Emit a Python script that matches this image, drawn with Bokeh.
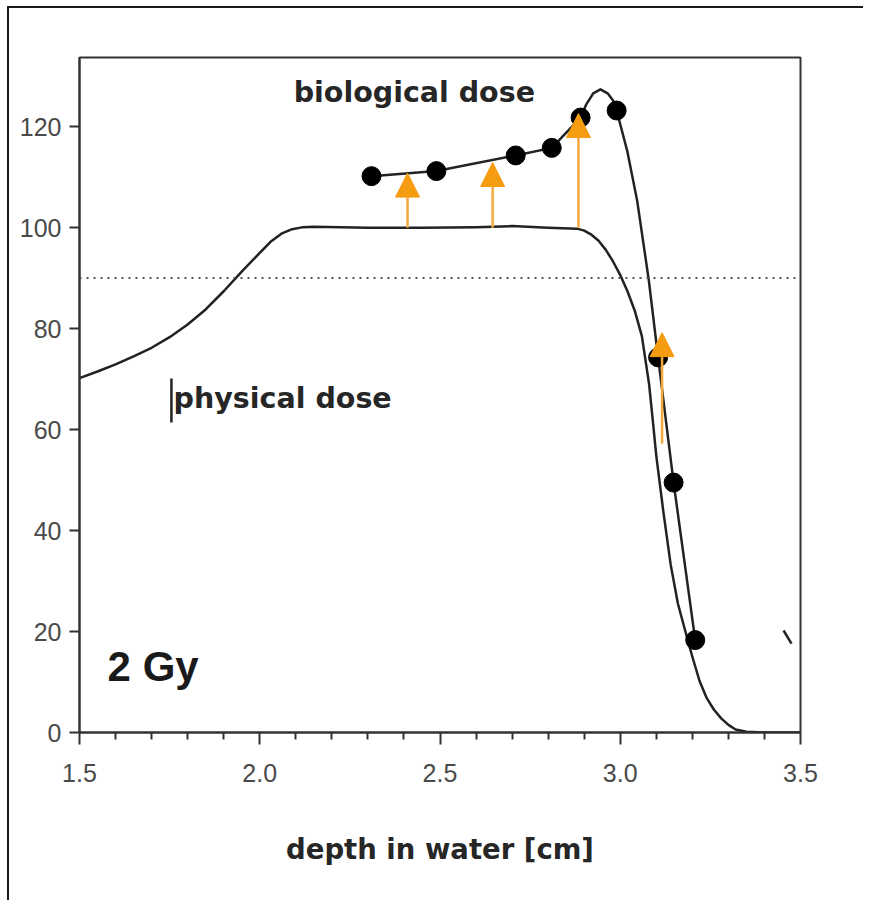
from bokeh.plotting import figure
from bokeh.models import Range1d, FixedTicker, Span, Label, Arrow, NormalHead
from bokeh.embed import file_html
from bokeh.resources import INLINE

# ---- data ----
phys_x = [1.50, 1.55, 1.60, 1.65, 1.70, 1.75, 1.80, 1.85, 1.90, 1.95, 2.00, 2.03,
          2.06, 2.09, 2.12, 2.15, 2.30, 2.45, 2.60, 2.70, 2.80, 2.88, 2.90, 2.92,
          2.94, 2.96, 2.98, 3.00, 3.02, 3.04, 3.06, 3.08, 3.09, 3.10, 3.12, 3.14,
          3.16, 3.18, 3.20, 3.22, 3.24, 3.26, 3.28, 3.30, 3.32, 3.35, 3.40, 3.50]
phys_y = [70.2, 71.5, 72.9, 74.5, 76.2, 78.3, 80.8, 83.8, 87.4, 91.3, 95.0, 97.2,
          98.8, 99.7, 100.1, 100.2, 100.0, 100.0, 100.1, 100.3, 100.0, 99.8, 99.4, 98.6,
          97.4, 95.6, 93.3, 90.6, 87.4, 83.6, 78.5, 69.0, 62.0, 54.8, 43.5, 33.2,
          25.5, 20.2, 15.0, 10.2, 6.8, 4.5, 2.8, 1.5, 0.6, 0.15, 0.0, 0.0]

bio_x = [2.31, 2.49, 2.71, 2.81, 2.89, 2.905, 2.925, 2.945, 2.965, 2.98, 2.99, 3.02,
         3.047, 3.079, 3.105, 3.148, 3.208]
bio_y = [110.2, 111.2, 114.3, 115.8, 121.8, 124.3, 126.6, 127.4, 126.6, 125.2, 123.2,
         115.0, 105.3, 89.7, 74.3, 49.5, 18.3]

dot_x = [2.31, 2.49, 2.71, 2.81, 2.89, 2.99, 3.105, 3.148, 3.208]
dot_y = [110.2, 111.2, 114.3, 115.8, 121.8, 123.2, 74.3, 49.5, 18.3]

arrow_x = [2.41, 2.646, 2.884, 3.116]
arrow_y0 = [100.0, 100.0, 100.0, 57.2]
arrow_y1 = [110.8, 112.9, 122.6, 79.2]

ref_level = 90
x_ticks = [1.5, 2.0, 2.5, 3.0, 3.5]
x_minor = [1.6, 1.7, 1.8, 1.9, 2.1, 2.2, 2.3, 2.4, 2.6, 2.7, 2.8, 2.9, 3.1, 3.2, 3.3, 3.4]
y_ticks = [0, 20, 40, 60, 80, 100, 120]

# small screenshot artifacts
mark_x0, mark_y0, mark_x1, mark_y1 = [3.453, 1.755], [20.2, 70.1], [3.475, 1.755], [17.6, 61.4]

TXT = "#262626"

p = figure(width=856, height=894, output_backend="svg", toolbar_location=None,
           x_range=Range1d(1.5, 3.5), y_range=Range1d(0, 133.7),
           min_border_left=70, min_border_right=65, min_border_top=49,
           min_border_bottom=170)
p.styles = {"margin-left": "7px", "margin-top": "6px",
            "border-left": "2px solid #1a1a1a", "border-top": "2px solid #1a1a1a"}
p.grid.visible = False
p.background_fill_color = "white"
p.border_fill_color = "white"
p.outline_line_color = "#333333"
p.outline_line_width = 2

for ax in (p.xaxis[0], p.yaxis[0]):
    ax.axis_line_color = "#333333"
    ax.axis_line_width = 2
    ax.major_tick_line_color = "#333333"
    ax.major_tick_line_width = 2
    ax.minor_tick_line_color = "#333333"
    ax.minor_tick_line_width = 2
    ax.major_tick_in = 0
    ax.minor_tick_in = 0
    ax.major_label_text_font = "Liberation Sans"
    ax.major_label_text_font_size = "25px"
    ax.major_label_text_color = "#4a4a4a"

p.xaxis.ticker = FixedTicker(ticks=x_ticks, minor_ticks=x_minor)
p.xaxis.major_tick_out = 12
p.xaxis.minor_tick_out = 7
p.xaxis.major_label_standoff = 19
p.xaxis.major_label_overrides = {t: f"{t:.1f}" for t in x_ticks}
p.xaxis.axis_label = "depth in water [cm]"
p.xaxis.axis_label_text_font = "DejaVu Sans"
p.xaxis.axis_label_text_font_style = "bold"
p.xaxis.axis_label_text_font_size = "27.5px"
p.xaxis.axis_label_text_color = TXT
p.xaxis.axis_label_standoff = 48

p.yaxis.ticker = FixedTicker(ticks=y_ticks, minor_ticks=[])
p.yaxis.major_tick_out = 10
p.yaxis.minor_tick_out = 0
p.yaxis.major_label_standoff = 8

p.add_layout(Span(location=ref_level, dimension="width", line_color="#555555",
                  line_width=2, line_dash="2 5"))

p.line(phys_x, phys_y, line_color="#222222", line_width=2.5, line_join="round")
p.line(bio_x, bio_y, line_color="#222222", line_width=2.5, line_join="round")

for xa, y0, y1 in zip(arrow_x, arrow_y0, arrow_y1):
    p.add_layout(Arrow(x_start=xa, y_start=y0, x_end=xa, y_end=y1,
                       line_color="#F2A93B", line_width=2.5,
                       end=NormalHead(size=24, fill_color="#F59C10",
                                      line_color="#F59C10", line_width=1)))

p.scatter(dot_x, dot_y, size=19, fill_color="black", line_color="black")

p.segment(mark_x0, mark_y0, mark_x1, mark_y1, line_color="#222222", line_width=2.5)

p.add_layout(Label(x=2.094, y=126.7, text="biological dose", text_font="DejaVu Sans",
                   text_font_style="bold", text_font_size="28.5px", text_color=TXT,
                   text_baseline="middle"))
p.add_layout(Label(x=1.761, y=66.1, text="physical dose", text_font="DejaVu Sans",
                   text_font_style="bold", text_font_size="28.5px", text_color=TXT,
                   text_baseline="middle"))
p.add_layout(Label(x=1.578, y=13.1, text="2 Gy", text_font="Liberation Sans",
                   text_font_style="bold", text_font_size="42px", text_color="#1a1a1a",
                   text_baseline="middle"))

open("out.html", "w").write(file_html(p, INLINE))
